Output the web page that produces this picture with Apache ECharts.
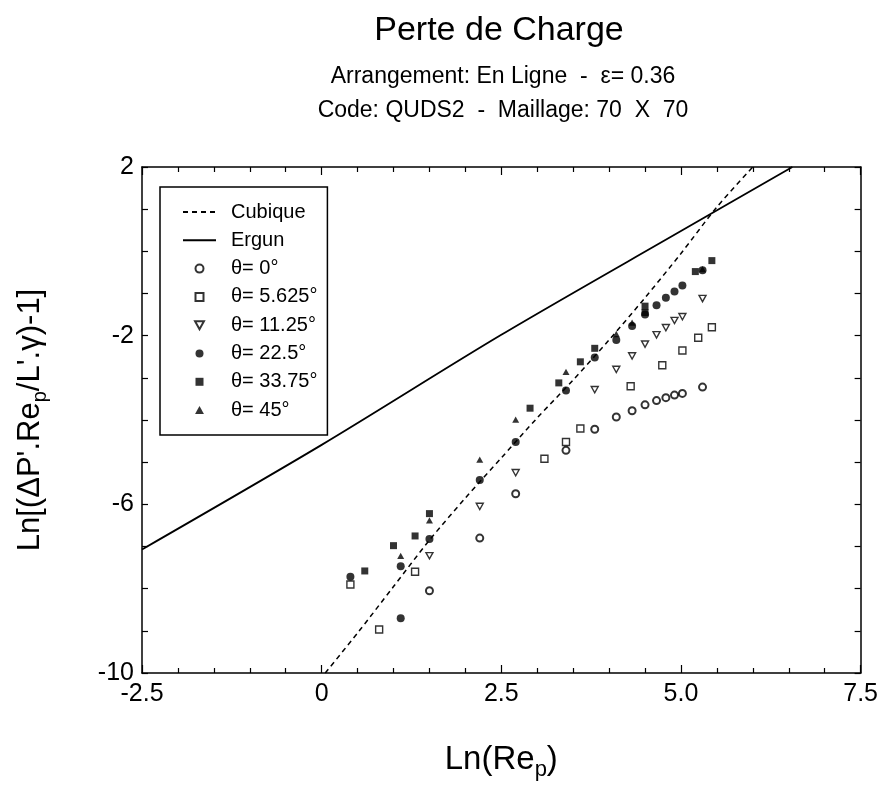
<!DOCTYPE html>
<html>
<head>
<meta charset="utf-8">
<script src="https://cdn.jsdelivr.net/npm/echarts@6/dist/echarts.min.js"></script>
<style>html,body{margin:0;padding:0;background:#fff}#c{width:881px;height:801px}</style>
</head>
<body>
<div id="c"></div>
<script>
// ---- data ----
const xTicks = [-2.5, 0, 2.5, 5.0, 7.5];
const yTicks = [-10, -6, -2, 2];

const cubiqueX = [0.05, 0.5, 1.0, 1.5, 2.0, 2.5, 3.0, 3.5, 4.0, 4.5, 5.0, 5.5, 6.0];
const cubiqueY = [-10, -9.05, -7.95, -6.85, -5.85, -4.9, -3.95, -3.05, -2.1, -1.1, -0.05, 1.05, 2.0];

const ergunX = [-2.5, 0, 2.5, 5.0, 6.55];
const ergunY = [-7.07, -4.59, -1.98, 0.48, 2.0];

const theta0 = [[1.5,-8.05],[2.2,-6.8],[2.7,-5.75],[3.4,-4.72],[3.8,-4.22],[4.1,-3.93],[4.32,-3.78],[4.5,-3.64],[4.66,-3.54],[4.79,-3.47],[4.91,-3.41],[5.02,-3.37],[5.3,-3.22]];
const theta5625 = [[0.4,-7.9],[0.8,-8.97],[1.3,-7.6],[3.1,-4.92],[3.4,-4.52],[3.6,-4.2],[4.3,-3.2],[4.74,-2.7],[5.02,-2.35],[5.24,-2.05],[5.43,-1.8]];
const theta1125 = [[1.5,-7.22],[2.2,-6.05],[2.7,-5.25],[3.8,-3.28],[4.1,-2.8],[4.32,-2.48],[4.5,-2.2],[4.66,-1.98],[4.79,-1.81],[4.91,-1.64],[5.02,-1.55],[5.3,-1.12]];
const theta225 = [[0.4,-7.72],[1.1,-7.47],[1.1,-8.7],[1.5,-6.82],[2.2,-5.42],[2.7,-4.52],[3.4,-3.3],[3.8,-2.52],[4.1,-2.1],[4.32,-1.77],[4.5,-1.5],[4.66,-1.28],[4.79,-1.1],[4.91,-0.95],[5.02,-0.81],[5.3,-0.45]];
const theta3375 = [[0.6,-7.58],[1.0,-6.98],[1.3,-6.75],[1.5,-6.22],[2.9,-3.72],[3.3,-3.12],[3.6,-2.62],[3.8,-2.3],[4.5,-1.45],[4.5,-1.3],[5.2,-0.48],[5.43,-0.22]];
const theta45 = [[1.1,-7.22],[1.5,-6.38],[2.2,-4.94],[2.7,-3.99],[3.4,-2.86],[4.1,-1.96],[4.32,-1.69],[5.3,-0.42]];

const seriesNames = ['Cubique','Ergun','θ= 0°','θ= 5.625°','θ= 11.25°','θ= 22.5°','θ= 33.75°','θ= 45°'];

// ---- chart ----
const FONT = "'Liberation Sans',Arial,sans-serif";
const zip = (xs, ys) => xs.map((x, i) => [x, ys[i]]);

const SQUARE = 'path://M0,0H10V10H0Z';
const TRI_UP = 'path://M5,0L10,9L0,9Z';
const TRI_DOWN = 'path://M0,0H10L5,9Z';

const chart = echarts.init(document.getElementById('c'), null, {renderer: 'canvas'});

function scatter(name, data, symbol, size, empty) {
  return {
    name, type: 'scatter', data, symbol, symbolSize: size,
    symbolKeepAspect: true,
    itemStyle: empty ? {color: '#fff', borderColor: '#000', borderWidth: 1.4}
                     : {color: '#000', borderColor: '#000', borderWidth: 0},
    z: 3
  };
}

const hiddenSym = {color: 'rgba(0,0,0,0)', borderColor: 'rgba(0,0,0,0)', borderWidth: 0};
const legendData = seriesNames.map((n, i) => i < 2 ? {name: n, itemStyle: hiddenSym} : {name: n});

const axisLineStyle = {onZero: false, lineStyle: {color: '#000', width: 1.5}};

const option = {
  backgroundColor: '#fff',
  animation: false,
  title: [
    {text: 'Perte de Charge', left: 494, top: 9, textAlign: 'center',
     textStyle: {fontFamily: FONT, fontSize: 34, fontWeight: 'normal', color: '#000'}},
    {text: 'Arrangement: En Ligne  -  ε= 0.36', left: 498, top: 60, textAlign: 'center',
     textStyle: {fontFamily: FONT, fontSize: 23, fontWeight: 'normal', color: '#000'}},
    {text: 'Code: QUDS2  -  Maillage: 70  X  70', left: 498, top: 94, textAlign: 'center',
     textStyle: {fontFamily: FONT, fontSize: 23, fontWeight: 'normal', color: '#000'}}
  ],
  legend: {
    orient: 'vertical', left: 160, top: 187,
    data: legendData,
    itemWidth: 33, itemHeight: 8, itemGap: 8.3,
    symbolKeepAspect: true,
    padding: [15, 10, 15, 22],
    borderColor: '#000', borderWidth: 1.5,
    textStyle: {fontFamily: FONT, fontSize: 20, lineHeight: 20, color: '#000', padding: [0, 0, 0, 10]}
  },
  grid: {left: 142, right: 20, top: 167, bottom: 128, containLabel: false},
  xAxis: [
    {type: 'value', min: xTicks[0], max: xTicks[xTicks.length - 1], interval: 2.5,
     name: 'Ln(Re{s|p})', nameLocation: 'middle', nameGap: 66,
     nameTextStyle: {fontFamily: FONT, fontSize: 33, color: '#000',
       rich: {s: {fontFamily: FONT, fontSize: 22, color: '#000', padding: [20, 0, 0, 0]}}},
     axisLine: axisLineStyle,
     axisTick: {inside: true, length: 8, lineStyle: {color: '#000', width: 1.2}},
     minorTick: {show: true, splitNumber: 5, length: 5, lineStyle: {color: '#000', width: 1.2}},
     splitLine: {show: false},
     axisLabel: {fontFamily: FONT, fontSize: 25, color: '#000', margin: 9,
       formatter: v => (Math.abs(v) < 1e-9 ? '0' : v.toFixed(1))}},
    {type: 'value', position: 'top', min: xTicks[0], max: xTicks[xTicks.length - 1], interval: 2.5,
     axisLine: axisLineStyle,
     axisTick: {inside: true, length: 8, lineStyle: {color: '#000', width: 1.2}},
     minorTick: {show: true, splitNumber: 5, length: 5, lineStyle: {color: '#000', width: 1.2}},
     splitLine: {show: false}, axisLabel: {show: false}}
  ],
  yAxis: [
    {type: 'value', min: yTicks[0], max: yTicks[yTicks.length - 1], interval: 1,
     name: "Ln[(ΔP'.Re{s|p}/L'.γ)-1]", nameLocation: 'middle', nameGap: 92, nameRotate: 90,
     nameTextStyle: {fontFamily: FONT, fontSize: 31, color: '#000',
       rich: {s: {fontFamily: FONT, fontSize: 20, color: '#000', padding: [20, 0, 0, 0]}}},
     axisLine: axisLineStyle,
     axisTick: {inside: true, length: 6, lineStyle: {color: '#000', width: 1.2}},
     splitLine: {show: false},
     axisLabel: {fontFamily: FONT, fontSize: 25, color: '#000', margin: 8,
       formatter: v => (yTicks.indexOf(Math.round(v)) >= 0 ? String(Math.round(v)) : '')}},
    {type: 'value', position: 'right', min: yTicks[0], max: yTicks[yTicks.length - 1], interval: 1,
     axisLine: axisLineStyle,
     axisTick: {inside: true, length: 6, lineStyle: {color: '#000', width: 1.2}},
     splitLine: {show: false}, axisLabel: {show: false}}
  ],
  series: [
    {name: 'Cubique', type: 'line', data: zip(cubiqueX, cubiqueY), symbol: 'none', smooth: 0.3,
     lineStyle: {color: '#000', width: 1.5, type: [5, 4]}, itemStyle: {color: '#000'}, z: 2},
    {name: 'Ergun', type: 'line', data: zip(ergunX, ergunY), symbol: 'none', smooth: 0.3,
     lineStyle: {color: '#000', width: 1.8}, itemStyle: {color: '#000'}, z: 2},
    scatter('θ= 0°', theta0, 'emptyCircle', 7, false),
    scatter('θ= 5.625°', theta5625, SQUARE, 7, true),
    scatter('θ= 11.25°', theta1125, TRI_DOWN, 7, true),
    scatter('θ= 22.5°', theta225, 'circle', 8, false),
    scatter('θ= 33.75°', theta3375, SQUARE, 7, false),
    scatter('θ= 45°', theta45, TRI_UP, 7, false)
  ]
};
// emptyCircle uses its own border settings
option.series[2].itemStyle = {color: '#000', borderColor: '#000', borderWidth: 1.4};
chart.setOption(option);
</script>
</body>
</html>
